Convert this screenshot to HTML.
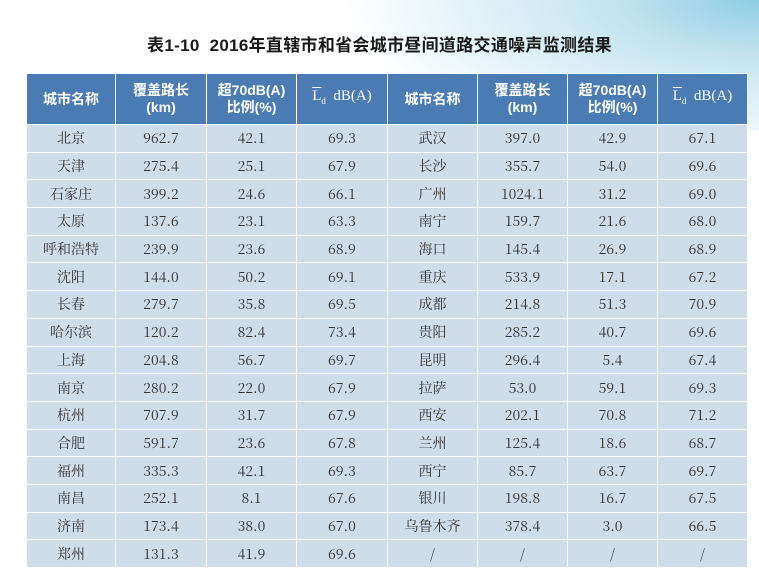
<!DOCTYPE html>
<html><head><meta charset="utf-8"><style>
body{margin:0;width:759px;height:587px;overflow:hidden;background:#fff;position:relative;font-family:"Liberation Sans","Noto Sans CJK SC",sans-serif}
#bg{position:absolute;left:0;top:0;width:759px;height:130px;background:radial-gradient(ellipse 420px 160px at 759px 0px,#8fcde4 0%,#c4e4f0 35%,rgba(255,255,255,0) 100%)}
#title{position:absolute;left:0;width:759px;top:31px;text-align:center;font-size:17px;font-weight:bold;color:#1a1a1a;letter-spacing:0.3px}
table{position:absolute;left:26px;top:73px;border-collapse:collapse;table-layout:fixed}
td,th{border:1.5px solid #fff;text-align:center;padding:0}
th{background:#4b7bb3;color:#fff;height:50px;font-size:14px;line-height:17px;font-weight:bold}
td{background:#cfdcea;height:26.7px;font-family:"Noto Serif CJK SC","Liberation Serif",serif;font-size:14px;color:#333}
.l{font-family:"Liberation Serif",serif;font-weight:normal;font-size:15px}
.ov{text-decoration:overline}
sub{font-size:9px}
</style></head><body>
<div id="bg"></div>
<div id="title">表1-10&nbsp; 2016年直辖市和省会城市昼间道路交通噪声监测结果</div>
<table>
<colgroup><col style="width:89px"><col style="width:91px"><col style="width:90px"><col style="width:91px"><col style="width:90px"><col style="width:90px"><col style="width:90px"><col style="width:90px"></colgroup>
<tr>
<th>城市名称</th><th>覆盖路长<br>(km)</th><th>超70dB(A)<br>比例(%)</th><th class="l"><span class="ov">L</span><sub>d</sub>&nbsp; dB(A)</th>
<th>城市名称</th><th>覆盖路长<br>(km)</th><th>超70dB(A)<br>比例(%)</th><th class="l"><span class="ov">L</span><sub>d</sub>&nbsp; dB(A)</th></tr>
<tbody id="tb"></tbody>
</table>
<script>
const rows=[
["北京","962.7","42.1","69.3","武汉","397.0","42.9","67.1"],
["天津","275.4","25.1","67.9","长沙","355.7","54.0","69.6"],
["石家庄","399.2","24.6","66.1","广州","1024.1","31.2","69.0"],
["太原","137.6","23.1","63.3","南宁","159.7","21.6","68.0"],
["呼和浩特","239.9","23.6","68.9","海口","145.4","26.9","68.9"],
["沈阳","144.0","50.2","69.1","重庆","533.9","17.1","67.2"],
["长春","279.7","35.8","69.5","成都","214.8","51.3","70.9"],
["哈尔滨","120.2","82.4","73.4","贵阳","285.2","40.7","69.6"],
["上海","204.8","56.7","69.7","昆明","296.4","5.4","67.4"],
["南京","280.2","22.0","67.9","拉萨","53.0","59.1","69.3"],
["杭州","707.9","31.7","67.9","西安","202.1","70.8","71.2"],
["合肥","591.7","23.6","67.8","兰州","125.4","18.6","68.7"],
["福州","335.3","42.1","69.3","西宁","85.7","63.7","69.7"],
["南昌","252.1","8.1","67.6","银川","198.8","16.7","67.5"],
["济南","173.4","38.0","67.0","乌鲁木齐","378.4","3.0","66.5"],
["郑州","131.3","41.9","69.6","/","/","/","/"]];
const tb=document.getElementById('tb');
rows.forEach((r,i)=>{const tr=document.createElement('tr');


r.forEach((v,j)=>{const td=document.createElement('td');td.textContent=v;


tr.appendChild(td);});tb.appendChild(tr);});
</script>
</body></html>
